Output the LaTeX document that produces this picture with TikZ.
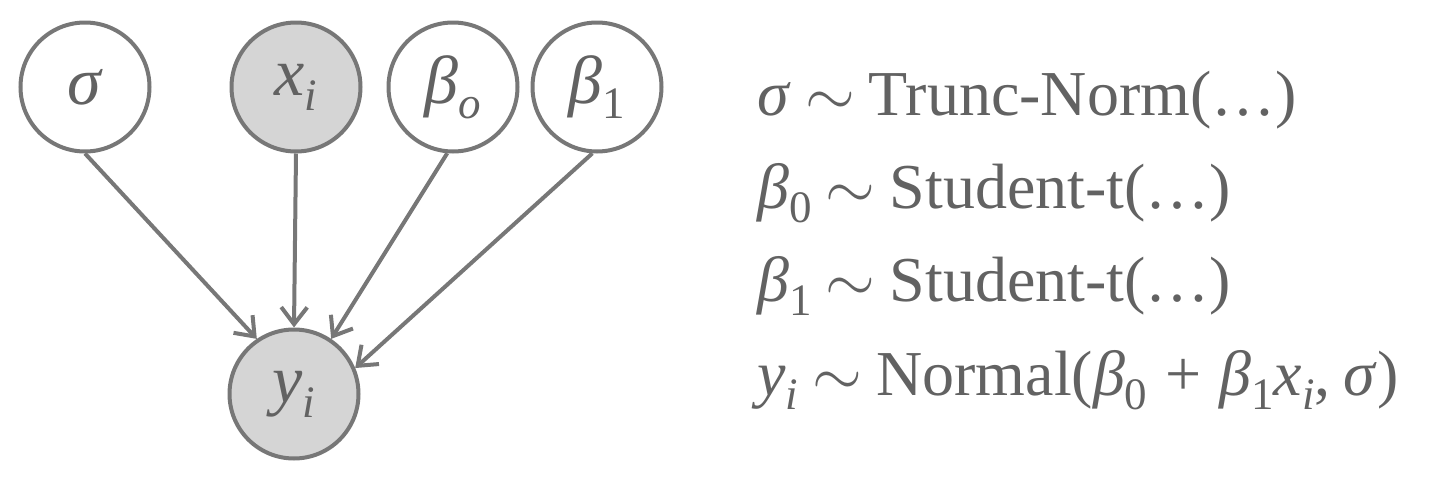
\documentclass[tikz,border=0pt]{standalone}
\usepackage{fix-cm}
\usepackage{fontspec}
\setmainfont{Liberation Serif}
\usetikzlibrary{arrows.meta}
\definecolor{edgegray}{HTML}{777777}
\definecolor{txtgray}{HTML}{626262}
\definecolor{obsfill}{HTML}{D5D5D5}
\newcommand\mysub[1]{\raisebox{-0.22em}{\fontsize{22.5}{22.5}\selectfont #1}}
\newcommand\iv[1]{\textit{#1}}
\newcommand\simrel{\hspace{0.22em}$\sim$\hspace{0.22em}}
\begin{document}
\begin{tikzpicture}[x=0.5pt,y=-0.5pt,
  var/.style={circle,draw=edgegray,line width=2pt,minimum size=64.5pt,inner sep=0pt,
    fill=white,text=txtgray,font=\fontsize{34}{40}\selectfont},
  obsvar/.style={var,fill=obsfill},
  edgearrow/.style={draw=edgegray,line width=2pt,-{Straight Barb[length=8.5pt,width=13pt]}},
  eq/.style={anchor=base west,inner sep=0pt,text=txtgray,font=\fontsize{32}{38}\selectfont}]
\useasboundingbox (0,0) rectangle (1442,477);
\node[var] (s) at (85,87) {\iv{σ}};
\node[obsvar] (x) at (296,87) {\iv{x}\mysub{\iv{i}}};
\node[var] (b0) at (453,87) {\iv{β}\mysub{\iv{o}}};
\node[var] (b1) at (597,87) {\iv{β}\mysub{1}};
\node[obsvar] (y) at (294,394) {\iv{y}\mysub{\iv{i}}};
\draw[edgearrow] (s.270) -- (y.124);
\draw[edgearrow] (x.270) -- (y.90);
\draw[edgearrow] (b0.265) -- (y.56);
\draw[edgearrow] (b1.266) -- (y.23);
\node[eq] (e1) at (757,115) {\iv{σ}\simrel Trunc-Norm(…)};
\node[eq] (e2) at (757,208) {\iv{β}\mysub{0}\simrel Student-t(…)};
\node[eq] (e3) at (757,301) {\iv{β}\mysub{1}\simrel Student-t(…)};
\node[eq] (e4) at (757,395) {\iv{y}\mysub{\iv{i}}\simrel Normal(\iv{β}\mysub{0}\hspace{0.28em}+\hspace{0.28em}\iv{β}\mysub{1}\iv{x}\mysub{\iv{i}},\hspace{0.2em}\iv{σ})};
\end{tikzpicture}
\end{document}
